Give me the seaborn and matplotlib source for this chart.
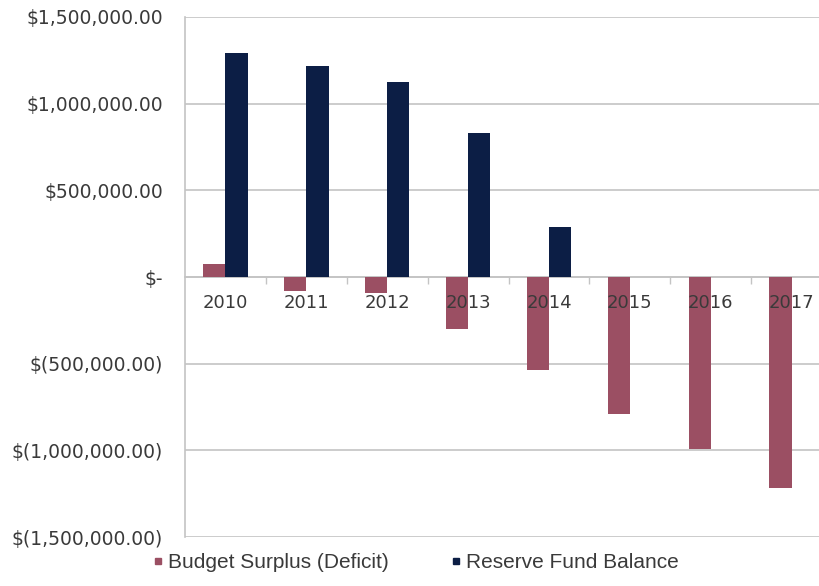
import matplotlib
matplotlib.use("Agg")
import matplotlib.pyplot as plt
from matplotlib.lines import Line2D
from matplotlib.ticker import FuncFormatter, FixedLocator
import seaborn as sns
import pandas as pd

# data
years = ["2010", "2011", "2012", "2013", "2014", "2015", "2016", "2017"]
budget_surplus = [73000, -81000, -90000, -300000, -536000, -790000, -994000, -1215000]
reserve_balance = [1295000, 1217000, 1126000, 829000, 290000, 0, 0, 0]
series_names = ["Budget Surplus (Deficit)", "Reserve Fund Balance"]
colors = ["#9b4f63", "#0c1e45"]

df = pd.DataFrame({
    "Year": years * 2,
    "Value": budget_surplus + reserve_balance,
    "Series": [series_names[0]] * len(years) + [series_names[1]] * len(years),
})


def accounting(v, pos):
    if v == 0:
        return "$-"
    if v < 0:
        return f"$({abs(v):,.2f})"
    return f"${v:,.2f}"


sns.set_theme(style="white")
plt.rcParams["font.family"] = ["DejaVu Sans"]

fig = plt.figure(figsize=(8.2, 5.86), dpi=100)
ax = fig.add_axes([0.2256, 0.0836, 0.7744, 0.8874])

sns.barplot(data=df, x="Year", y="Value", hue="Series", palette=colors,
            width=0.55, saturation=1, linewidth=0, ax=ax, legend=False)

ax.set_ylim(-1500000, 1500000)
ax.set_xlim(-0.5, 7.35)
ax.set_yticks([-1500000, -1000000, -500000, 0, 500000, 1000000, 1500000])
ax.yaxis.set_major_formatter(FuncFormatter(accounting))
ax.yaxis.grid(True, color="#c4c4c4", linewidth=1.2)
ax.set_axisbelow(True)
# year labels must sit on top of the negative bars
ax.xaxis.set_zorder(3)
ax.set_xlabel("")
ax.set_ylabel("")

# x axis sits at zero, years printed just under it
ax.spines["bottom"].set_position(("data", 0))
ax.spines["bottom"].set_color("#c4c4c4")
ax.spines["bottom"].set_linewidth(1.2)
ax.spines["bottom"].set_zorder(0.6)
ax.spines["left"].set_color("#c4c4c4")
ax.spines["left"].set_linewidth(1.2)
ax.spines["top"].set_visible(False)
ax.spines["right"].set_visible(False)

ax.xaxis.set_minor_locator(FixedLocator([i + 0.5 for i in range(len(years) - 1)]))
ax.tick_params(axis="x", which="major", length=0, pad=12, labelsize=13, labelcolor="#3a3a3a")
ax.tick_params(axis="x", which="minor", bottom=True, length=5, width=1.0, color="#c4c4c4", direction="out")
ax.tick_params(axis="y", length=0, pad=16, labelsize=13.5, labelcolor="#3a3a3a")

handles = [Line2D([], [], marker="s", linestyle="", markersize=5, color=c) for c in colors]
fig.legend(handles, series_names, loc="lower center", bbox_to_anchor=(0.507, -0.008),
           ncol=2, frameon=False, handlelength=0.45, handletextpad=0.25, columnspacing=3.0,
           prop={"family": "Liberation Sans", "size": 15}, labelcolor="#3a3a3a")

fig.savefig("out.png", dpi=100)
